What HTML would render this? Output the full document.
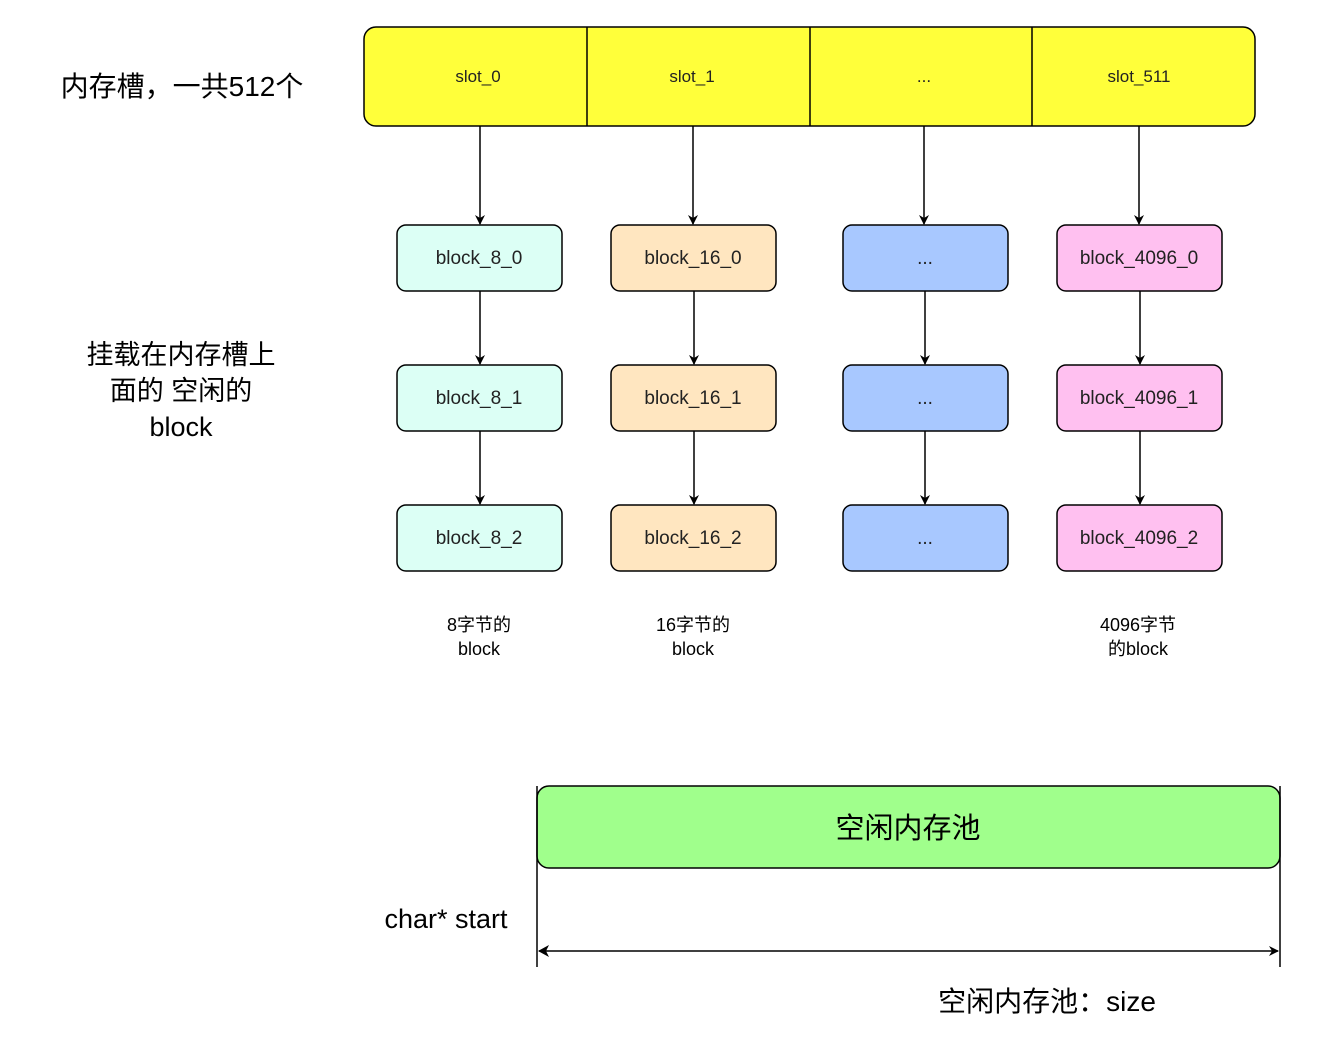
<!DOCTYPE html>
<html><head><meta charset="utf-8"><style>body{margin:0;background:#fff}</style></head><body>
<svg width="1333" height="1042" xmlns="http://www.w3.org/2000/svg" font-family="Liberation Sans, Noto Sans CJK SC, sans-serif">
<defs><marker id="a" markerWidth="10" markerHeight="10" refX="9" refY="5" orient="auto" markerUnits="userSpaceOnUse"><path d="M0,0 L10,5 L0,10 L3,5 z" fill="#000"/></marker></defs>
<rect x="364" y="27" width="891" height="99" rx="12" fill="#ffff3a" stroke="#000" stroke-width="1.5"/>
<line x1="587" y1="27" x2="587" y2="126" stroke="#000" stroke-width="1.5"/>
<line x1="810" y1="27" x2="810" y2="126" stroke="#000" stroke-width="1.5"/>
<line x1="1032" y1="27" x2="1032" y2="126" stroke="#000" stroke-width="1.5"/>
<g font-size="17" text-anchor="middle" fill="#222">
<text x="478" y="82">slot_0</text><text x="692" y="82">slot_1</text><text x="924" y="82">...</text><text x="1139" y="82">slot_511</text>
</g>
<text x="182" y="96" font-size="28" text-anchor="middle">内存槽，一共512个</text>
<g font-size="27" text-anchor="middle"><text x="181" y="364">挂载在内存槽上</text><text x="181" y="400">面的 空闲的</text><text x="181" y="436">block</text></g>
<g stroke="#000" stroke-width="1.5" marker-end="url(#a)">
<line x1="480" y1="126" x2="480" y2="224"/><line x1="693" y1="126" x2="693" y2="224"/><line x1="924" y1="126" x2="924" y2="224"/><line x1="1139" y1="126" x2="1139" y2="224"/>
<line x1="480" y1="291" x2="480" y2="364"/><line x1="694" y1="291" x2="694" y2="364"/><line x1="925" y1="291" x2="925" y2="364"/><line x1="1140" y1="291" x2="1140" y2="364"/>
<line x1="480" y1="431" x2="480" y2="504"/><line x1="694" y1="431" x2="694" y2="504"/><line x1="925" y1="431" x2="925" y2="504"/><line x1="1140" y1="431" x2="1140" y2="504"/>
</g>
<g stroke="#000" stroke-width="1.5">
<rect x="397" y="225" width="165" height="66" rx="9" fill="#dcfff5"/><rect x="397" y="365" width="165" height="66" rx="9" fill="#dcfff5"/><rect x="397" y="505" width="165" height="66" rx="9" fill="#dcfff5"/>
<rect x="611" y="225" width="165" height="66" rx="9" fill="#ffe6c0"/><rect x="611" y="365" width="165" height="66" rx="9" fill="#ffe6c0"/><rect x="611" y="505" width="165" height="66" rx="9" fill="#ffe6c0"/>
<rect x="843" y="225" width="165" height="66" rx="9" fill="#a8c8ff"/><rect x="843" y="365" width="165" height="66" rx="9" fill="#a8c8ff"/><rect x="843" y="505" width="165" height="66" rx="9" fill="#a8c8ff"/>
<rect x="1057" y="225" width="165" height="66" rx="9" fill="#ffc0f0"/><rect x="1057" y="365" width="165" height="66" rx="9" fill="#ffc0f0"/><rect x="1057" y="505" width="165" height="66" rx="9" fill="#ffc0f0"/>
</g>
<g font-size="19" text-anchor="middle" fill="#222">
<text x="479" y="264">block_8_0</text><text x="479" y="404">block_8_1</text><text x="479" y="544">block_8_2</text>
<text x="693" y="264">block_16_0</text><text x="693" y="404">block_16_1</text><text x="693" y="544">block_16_2</text>
<text x="925" y="264">...</text><text x="925" y="404">...</text><text x="925" y="544">...</text>
<text x="1139" y="264">block_4096_0</text><text x="1139" y="404">block_4096_1</text><text x="1139" y="544">block_4096_2</text>
</g>
<g font-size="18" text-anchor="middle">
<text x="479" y="631">8字节的</text><text x="479" y="655">block</text>
<text x="693" y="631">16字节的</text><text x="693" y="655">block</text>
<text x="1138" y="631">4096字节</text><text x="1138" y="655">的block</text>
</g>
<rect x="537" y="786" width="743" height="82" rx="12" fill="#a0ff8c" stroke="#000" stroke-width="1.5"/>
<text x="908" y="838" font-size="29" text-anchor="middle">空闲内存池</text>
<line x1="537" y1="786" x2="537" y2="967" stroke="#000" stroke-width="1.5"/>
<line x1="1280" y1="786" x2="1280" y2="967" stroke="#000" stroke-width="1.5"/>
<line x1="539" y1="951" x2="1278" y2="951" stroke="#000" stroke-width="1.5" marker-end="url(#a)" marker-start="url(#b)"/>
<path d="M538,951 L549,945 L546,951 L549,957 z" fill="#000"/>
<text x="446" y="928" font-size="27" text-anchor="middle">char* start</text>
<text x="1047" y="1011" font-size="28" text-anchor="middle">空闲内存池：size</text>
</svg>
</body></html>
